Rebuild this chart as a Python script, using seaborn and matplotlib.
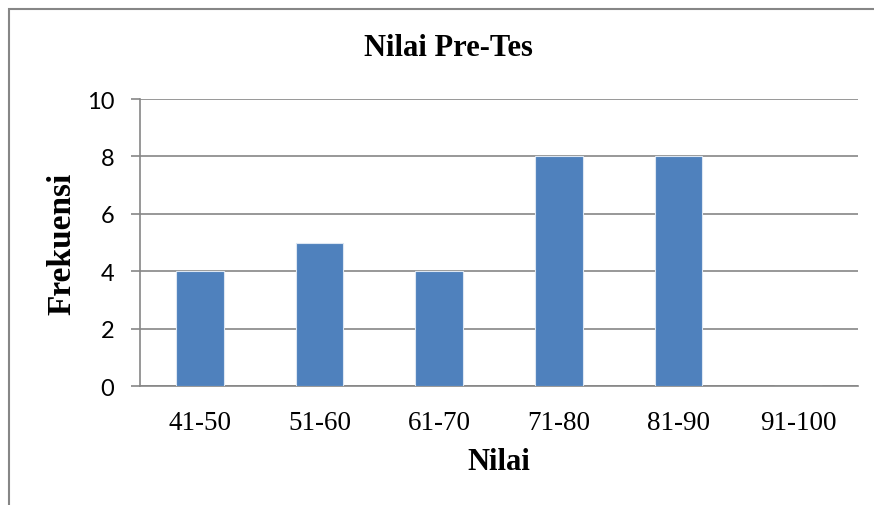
import matplotlib
matplotlib.use("Agg")
import matplotlib.pyplot as plt
from matplotlib.patches import Rectangle
import seaborn as sns
import pandas as pd

categories = ["41-50", "51-60", "61-70", "71-80", "81-90", "91-100"]
frequencies = [4, 5, 4, 8, 8, 0]
y_ticks = [0, 2, 4, 6, 8, 10]

sns.set_theme(style="white")

W, H = 874, 506
fig = plt.figure(figsize=(W / 100, H / 100), dpi=100)
ax = fig.add_axes([140 / W, 1 - 387 / H, (858 - 140) / W, (387 - 100) / H])

df = pd.DataFrame({"Nilai": categories, "Frekuensi": frequencies})
sns.barplot(data=df, x="Nilai", y="Frekuensi", color="#4F81BD", width=0.4,
            saturation=1, ax=ax, zorder=3, edgecolor="#DCE6F2", linewidth=0.8)

grey = "#868686"
ax.set_ylim(0, 10)
ax.set_xlim(-0.5, len(categories) - 0.5)
ax.set_yticks(y_ticks)
ax.yaxis.grid(True, color=grey, linewidth=1.2, zorder=0)
ax.set_axisbelow(True)
for side in ["top", "right"]:
    ax.spines[side].set_visible(False)
for side in ["left", "bottom"]:
    ax.spines[side].set_color(grey)
    ax.spines[side].set_linewidth(1.2)

ax.tick_params(axis="y", which="major", direction="out", length=6.5, width=1.2,
               color=grey, left=True, pad=12, labelsize=17,
               labelfontfamily="Lato", labelcolor="black")
ax.tick_params(axis="x", bottom=False, pad=11, labelsize=19.5,
               labelfontfamily="Liberation Serif", labelcolor="black")

ax.set_xlabel("Nilai", fontfamily="Liberation Serif", fontweight="bold",
              fontsize=22, color="black", va="center")
ax.xaxis.set_label_coords(0.5, (387 - 463) / 287)
ax.set_ylabel("Frekuensi", fontfamily="Liberation Serif", fontweight="bold",
              fontsize=24, color="black", va="center")
ax.yaxis.set_label_coords((62 - 140) / 718, 0.5)

fig.text(448 / W, 1 - 49 / H, "Nilai Pre-Tes", ha="center", va="center",
         fontfamily="Liberation Serif", fontweight="bold", fontsize=22,
         color="black")

# chart frame
fig.patches.append(Rectangle((9 / W, -0.1), 1.2, 1 - 10 / H + 0.1,
                             transform=fig.transFigure, fill=False,
                             edgecolor=grey, linewidth=1.5))

fig.savefig("out.png", dpi=100)
